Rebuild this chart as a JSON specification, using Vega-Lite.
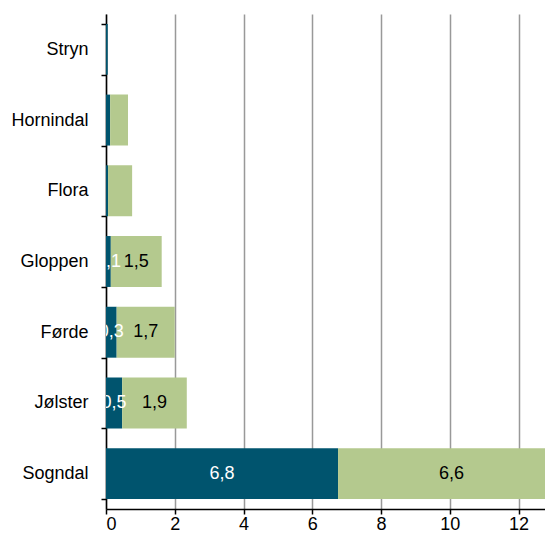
{
  "$schema": "https://vega.github.io/schema/vega-lite/v6.json",
  "width": 439,
  "height": 495,
  "autosize": {"type": "none"},
  "padding": {"left": 106, "top": 14, "right": 0, "bottom": 31},
  "background": "white",
  "config": {
    "view": {"stroke": null},
    "font": "Liberation Sans",
    "axis": {"labelFont": "Liberation Sans", "labelColor": "black"}
  },
  "data": {
    "values": [
      {"kommune": "Stryn", "serie": "A", "rekkefolge": 1, "verdi": 0.05, "etikett": ""},
      {"kommune": "Stryn", "serie": "B", "rekkefolge": 2, "verdi": 0.0, "etikett": ""},
      {"kommune": "Hornindal", "serie": "A", "rekkefolge": 1, "verdi": 0.12, "etikett": ""},
      {"kommune": "Hornindal", "serie": "B", "rekkefolge": 2, "verdi": 0.52, "etikett": ""},
      {"kommune": "Flora", "serie": "A", "rekkefolge": 1, "verdi": 0.06, "etikett": ""},
      {"kommune": "Flora", "serie": "B", "rekkefolge": 2, "verdi": 0.7, "etikett": ""},
      {"kommune": "Gloppen", "serie": "A", "rekkefolge": 1, "verdi": 0.14, "etikett": "0,1"},
      {"kommune": "Gloppen", "serie": "B", "rekkefolge": 2, "verdi": 1.48, "etikett": "1,5"},
      {"kommune": "Førde", "serie": "A", "rekkefolge": 1, "verdi": 0.31, "etikett": "0,3"},
      {"kommune": "Førde", "serie": "B", "rekkefolge": 2, "verdi": 1.69, "etikett": "1,7"},
      {"kommune": "Jølster", "serie": "A", "rekkefolge": 1, "verdi": 0.47, "etikett": "0,5"},
      {"kommune": "Jølster", "serie": "B", "rekkefolge": 2, "verdi": 1.88, "etikett": "1,9"},
      {"kommune": "Sogndal", "serie": "A", "rekkefolge": 1, "verdi": 6.75, "etikett": "6,8"},
      {"kommune": "Sogndal", "serie": "B", "rekkefolge": 2, "verdi": 6.6, "etikett": "6,6"}
    ]
  },
  "transform": [
    {"stack": "verdi", "groupby": ["kommune"], "sort": [{"field": "rekkefolge", "order": "ascending"}], "as": ["x0", "x1"]},
    {"calculate": "(datum.x0 + datum.x1) / 2", "as": "xmid"}
  ],
  "encoding": {
    "y": {
      "field": "kommune",
      "type": "nominal",
      "sort": ["Stryn", "Hornindal", "Flora", "Gloppen", "Førde", "Jølster", "Sogndal"],
      "title": null,
      "scale": {"paddingInner": 0.28, "paddingOuter": 0.14},
      "axis": {
        "domainColor": "black",
        "domainWidth": 1.5,
        "tickColor": "black",
        "tickWidth": 1.5,
        "tickSize": 5,
        "tickBand": "extent",
        "labelFontSize": 18,
        "labelPadding": 13,
        "grid": false
      }
    }
  },
  "layer": [
    {
      "mark": {"type": "bar", "clip": true},
      "encoding": {
        "x": {
          "field": "x0",
          "type": "quantitative",
          "title": null,
          "scale": {"domain": [0, 12.77], "nice": false},
          "axis": {
            "values": [0, 2, 4, 6, 8, 10, 12],
            "grid": true,
            "gridColor": "#999999",
            "gridWidth": 1.5,
            "domainColor": "black",
            "domainWidth": 1.5,
            "tickColor": "black",
            "tickWidth": 1.5,
            "tickSize": 5,
            "labelFontSize": 18,
            "labelPadding": 1
          }
        },
        "x2": {"field": "x1"},
        "color": {
          "field": "serie",
          "type": "nominal",
          "scale": {"domain": ["A", "B"], "range": ["#00546e", "#b4c98e"]},
          "legend": null
        }
      }
    },
    {
      "mark": {"type": "text", "clip": true, "fontSize": 18, "align": "center", "baseline": "middle"},
      "encoding": {
        "x": {"field": "xmid", "type": "quantitative"},
        "text": {"field": "etikett"},
        "color": {
          "condition": {"test": "datum.serie === 'A'", "value": "white"},
          "value": "black"
        }
      }
    }
  ]
}
